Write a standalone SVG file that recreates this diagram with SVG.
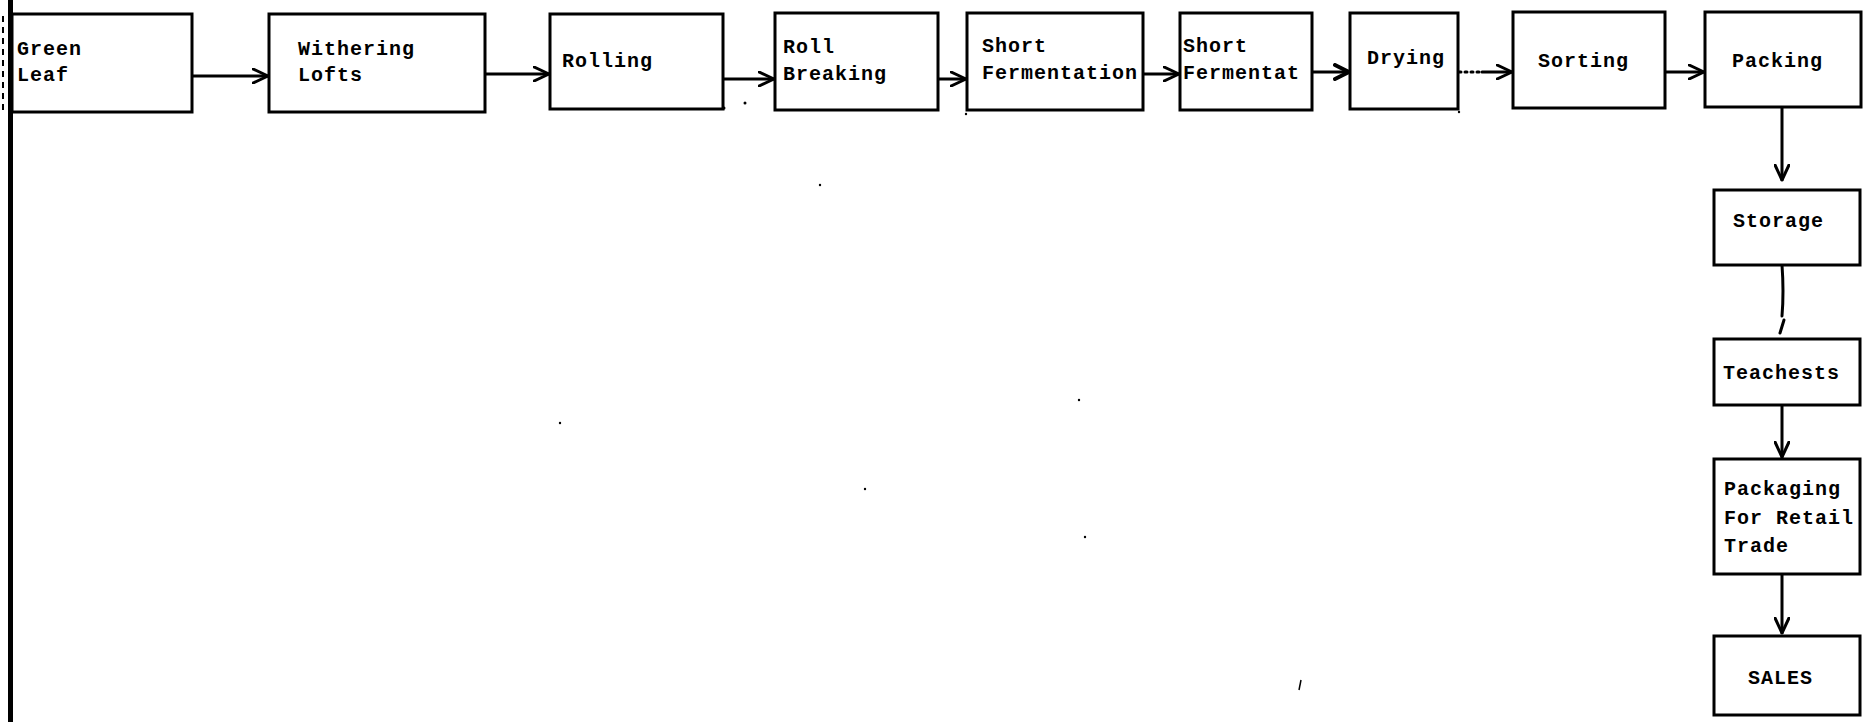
<svg xmlns="http://www.w3.org/2000/svg" width="1870" height="722" viewBox="0 0 1870 722">
<style>
  .box { fill: #ffffff; stroke: #000000; stroke-width: 3; }
  .lbl { font-family: "Liberation Mono", "DejaVu Sans Mono", monospace; font-weight: bold; font-size: 20px; letter-spacing: 1px; fill: #000000; }
  .con { fill: none; stroke: #000000; stroke-width: 3; stroke-linecap: round; stroke-linejoin: round; }
  .dot { fill: #000000; }
</style>
<defs>
  <marker id="arr" viewBox="0 0 17 16" refX="16" refY="8" markerWidth="17" markerHeight="16" markerUnits="userSpaceOnUse" orient="auto">
    <path d="M1,1 L16,8 L1,15" fill="none" stroke="#000000" stroke-width="3" stroke-linecap="round" stroke-linejoin="round"/>
  </marker>
  <marker id="arrb" viewBox="0 0 17 18" refX="16" refY="9" markerWidth="17" markerHeight="18" markerUnits="userSpaceOnUse" orient="auto">
    <path d="M2,2 L16,9 L2,16" fill="none" stroke="#000000" stroke-width="4" stroke-linecap="round" stroke-linejoin="round"/>
  </marker>
</defs>
<rect width="1870" height="722" fill="#ffffff"/>
<g id="margin">
  <rect x="8" y="0" width="5" height="722" fill="#000000"/>
  <line x1="3" y1="16" x2="3" y2="110" stroke="#000000" stroke-width="2" stroke-dasharray="6 5"/>
</g>
<g id="connectors">
  <line class="con" x1="192" y1="76" x2="268" y2="76" marker-end="url(#arr)"/>
  <line class="con" x1="485" y1="74" x2="549" y2="74" marker-end="url(#arr)"/>
  <line class="con" x1="723" y1="79" x2="774" y2="79" marker-end="url(#arr)"/>
  <line class="con" x1="938" y1="79" x2="966" y2="79" marker-end="url(#arr)"/>
  <line class="con" x1="1143" y1="74" x2="1179" y2="74" marker-end="url(#arr)"/>
  <line class="con" x1="1312" y1="72" x2="1349" y2="72" stroke-width="3.5" marker-end="url(#arrb)"/>
  <line class="con" x1="1459" y1="72" x2="1480" y2="72" stroke-width="2.5" stroke-dasharray="2 4"/>
  <line class="con" x1="1482" y1="72" x2="1512" y2="72" marker-end="url(#arr)"/>
  <line class="con" x1="1665" y1="72" x2="1704" y2="72" marker-end="url(#arr)"/>
  <line class="con" x1="1782" y1="107" x2="1782" y2="180" marker-end="url(#arr)"/>
  <path class="con" d="M1782,265 Q1784,292 1782,316"/>
  <line class="con" x1="1784" y1="320" x2="1780" y2="333" stroke-width="2.5"/>
  <line class="con" x1="1782" y1="405" x2="1782" y2="457" marker-end="url(#arr)"/>
  <line class="con" x1="1782" y1="574" x2="1782" y2="633" marker-end="url(#arr)"/>
</g>
<g id="green-leaf">
  <rect class="box" x="12" y="14" width="180" height="98"/>
  <text class="lbl" x="17" y="55">Green</text>
  <text class="lbl" x="17" y="81">Leaf</text>
</g>
<g id="withering-lofts">
  <rect class="box" x="269" y="14" width="216" height="98"/>
  <text class="lbl" x="298" y="55">Withering</text>
  <text class="lbl" x="298" y="81">Lofts</text>
</g>
<g id="rolling">
  <rect class="box" x="550" y="14" width="173" height="95"/>
  <text class="lbl" x="562" y="67">Rolling</text>
</g>
<g id="roll-breaking">
  <rect class="box" x="775" y="13" width="163" height="97"/>
  <text class="lbl" x="783" y="53">Roll</text>
  <text class="lbl" x="783" y="80">Breaking</text>
</g>
<g id="short-fermentation-1">
  <rect class="box" x="967" y="13" width="176" height="97"/>
  <text class="lbl" x="982" y="52">Short</text>
  <text class="lbl" x="982" y="79">Fermentation</text>
</g>
<g id="short-fermentation-2">
  <rect class="box" x="1180" y="13" width="132" height="97"/>
  <text class="lbl" x="1183" y="52">Short</text>
  <text class="lbl" x="1183" y="79">Fermentat</text>
</g>
<g id="drying">
  <rect class="box" x="1350" y="13" width="108" height="96"/>
  <text class="lbl" x="1367" y="64">Drying</text>
</g>
<g id="sorting">
  <rect class="box" x="1513" y="12" width="152" height="96"/>
  <text class="lbl" x="1538" y="67">Sorting</text>
</g>
<g id="packing">
  <rect class="box" x="1705" y="12" width="156" height="95"/>
  <text class="lbl" x="1732" y="67">Packing</text>
</g>
<g id="storage">
  <rect class="box" x="1714" y="190" width="146" height="75"/>
  <text class="lbl" x="1733" y="227">Storage</text>
</g>
<g id="teachests">
  <rect class="box" x="1714" y="339" width="146" height="66"/>
  <text class="lbl" x="1723" y="379">Teachests</text>
</g>
<g id="packaging-retail">
  <rect class="box" x="1714" y="459" width="146" height="115"/>
  <text class="lbl" x="1724" y="495">Packaging</text>
  <text class="lbl" x="1724" y="524">For Retail</text>
  <text class="lbl" x="1724" y="552">Trade</text>
</g>
<g id="sales">
  <rect class="box" x="1714" y="636" width="146" height="79"/>
  <text class="lbl" x="1748" y="684">SALES</text>
</g>
<g id="specks">
  <circle class="dot" cx="724" cy="108" r="1.5"/>
  <circle class="dot" cx="745" cy="103" r="1.5"/>
  <circle class="dot" cx="966" cy="114" r="1.2"/>
  <circle class="dot" cx="1459" cy="112" r="1.2"/>
  <circle class="dot" cx="820" cy="185" r="1.2"/>
  <circle class="dot" cx="560" cy="423" r="1.2"/>
  <circle class="dot" cx="1079" cy="400" r="1.2"/>
  <circle class="dot" cx="865" cy="489" r="1.2"/>
  <circle class="dot" cx="1085" cy="537" r="1.2"/>
  <line x1="1301" y1="680" x2="1299" y2="690" stroke="#000000" stroke-width="1.5"/>
</g>
</svg>
